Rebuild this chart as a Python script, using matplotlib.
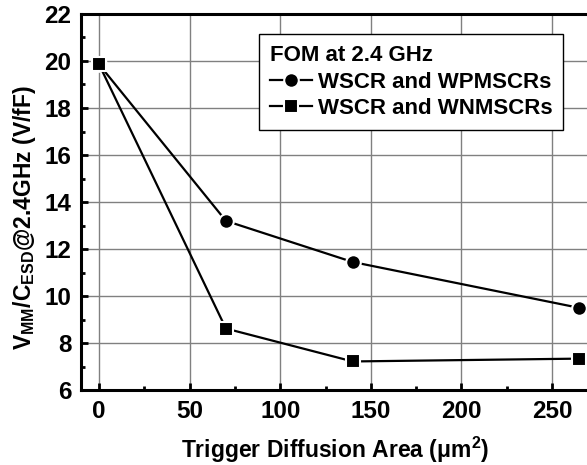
import matplotlib
matplotlib.use("Agg")
import matplotlib.pyplot as plt
from matplotlib.ticker import MultipleLocator

plt.rcParams['font.family'] = ['Liberation Sans', 'DejaVu Sans']
plt.rcParams['font.weight'] = 'bold'
plt.rcParams['mathtext.fontset'] = 'custom'
plt.rcParams['mathtext.rm'] = 'Liberation Sans:bold'
plt.rcParams['mathtext.it'] = 'Liberation Sans:bold'
plt.rcParams['mathtext.bf'] = 'Liberation Sans:bold'

area = [0, 70, 140, 265]
wpm = [19.85, 13.2, 11.45, 9.5]
wnm = [19.85, 8.62, 7.22, 7.34]
labels = ['WSCR and WPMSCRs', 'WSCR and WNMSCRs']
legend_title = 'FOM at 2.4 GHz'

fig = plt.figure(figsize=(5.87, 4.65), dpi=100)
ax = fig.add_axes([0.138, 0.161, 0.864, 0.809])

ax.plot(area, wpm, color='black', lw=1.6, marker='o', ms=10.5,
        mfc='black', mec='white', mew=1.5, label=labels[0], zorder=3)
ax.plot(area, wnm, color='black', lw=1.6, marker='s', ms=9.5,
        mfc='black', mec='white', mew=1.5, label=labels[1], zorder=3)

ax.set_xlim(-10, 270)
ax.set_ylim(6, 22)
ax.xaxis.set_major_locator(MultipleLocator(50))
ax.xaxis.set_minor_locator(MultipleLocator(25))
ax.yaxis.set_major_locator(MultipleLocator(2))
ax.yaxis.set_minor_locator(MultipleLocator(1))
ax.grid(True, which='major', color='#808080', lw=1.0)
ax.set_axisbelow(True)
ax.tick_params(which='both', direction='in', width=2, labelsize=17.5)
ax.tick_params(which='major', length=5, pad=7)
ax.tick_params(which='minor', length=3)
for s in ax.spines.values():
    s.set_linewidth(2.2)

ax.set_xlabel('Trigger Diffusion Area (μm$^2$)', fontsize=16.5, fontweight='bold')
ax.xaxis.set_label_coords(0.5, -0.118)
ax.set_ylabel(r'V$_{\mathrm{MM}}$/C$_{\mathrm{ESD}}$@2.4GHz (V/fF)', fontsize=16.5,
              fontweight='bold')
ax.yaxis.set_label_coords(-0.084, 0.46)

leg = ax.legend(title=legend_title, loc='upper right', bbox_to_anchor=(0.951, 0.947),
                borderaxespad=0,
                frameon=True, fancybox=False, edgecolor='black', fontsize=16,
                title_fontproperties={'weight': 'bold', 'size': 16},
                handlelength=1.9, handletextpad=0.25, borderpad=0.5, labelspacing=0.25,
                alignment='left')
leg.get_frame().set_linewidth(1.0)
leg.get_frame().set_alpha(1)

fig.savefig('out.png', dpi=100)
